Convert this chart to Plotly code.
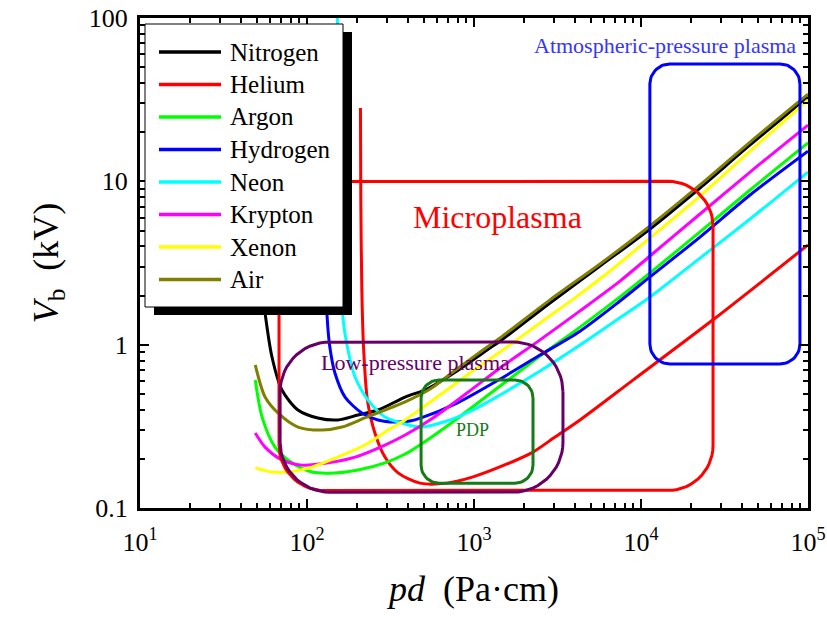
import numpy as np
import plotly.graph_objects as go

# ---------------- data ----------------
gases = ["Nitrogen", "Helium", "Argon", "Hydrogen", "Neon", "Krypton", "Xenon", "Air"]

nitrogen_pd = [50, 56.1, 61.7, 70.8, 88.3, 116, 153, 202, 266, 387, 523, 791, 1197, 1432, 2851, 5680, 11320, 22550, 44980, 100000]
nitrogen_vb = [4.5, 1.56, 0.840, 0.528, 0.398, 0.356, 0.346, 0.371, 0.398, 0.478, 0.535, 0.690, 0.928, 1.05, 1.80, 3.03, 5.11, 9.10, 16.7, 32.8]

helium_pd = [209, 210, 213, 218, 230, 255, 293, 351, 475, 689, 986, 1578, 2256, 3055, 4313, 8950, 26980, 100000]
helium_vb = [28.1, 7.69, 2.16, 0.968, 0.458, 0.288, 0.205, 0.164, 0.142, 0.142, 0.155, 0.186, 0.220, 0.272, 0.346, 0.607, 1.42, 4.08]

argon_pd = [49, 53.8, 64.3, 81.3, 107, 147, 202, 293, 387, 482, 718, 1432, 2486, 4313, 7480, 11320, 22550, 44980, 100000]
argon_vb = [0.607, 0.361, 0.236, 0.189, 0.166, 0.164, 0.171, 0.189, 0.214, 0.246, 0.327, 0.558, 0.852, 1.28, 1.96, 2.75, 4.90, 8.85, 17.2]

hydrogen_pd = [125, 132, 137, 147, 169, 213, 266, 337, 414, 482, 791, 1432, 2486, 4313, 7480, 11320, 22550, 44980, 100000]
hydrogen_vb = [12.0, 1.48, 0.968, 0.671, 0.478, 0.382, 0.346, 0.336, 0.341, 0.356, 0.439, 0.616, 0.864, 1.21, 1.85, 2.60, 4.56, 8.25, 15.3]

neon_pd = [152, 158, 164, 176, 194, 232, 293, 371, 475, 689, 986, 1432, 2486, 4313, 7180, 11320, 22550, 44980, 100000]
neon_vb = [100, 14, 1.48, 0.928, 0.634, 0.458, 0.361, 0.331, 0.313, 0.341, 0.398, 0.492, 0.690, 0.995, 1.42, 1.96, 3.39, 5.88, 11.4]

krypton_pd = [49, 56.1, 70.8, 93.3, 134, 194, 293, 387, 568, 908, 1432, 2486, 4313, 7480, 11320, 22550, 44980, 100000]
krypton_vb = [0.288, 0.236, 0.197, 0.183, 0.189, 0.205, 0.243, 0.280, 0.356, 0.506, 0.720, 1.07, 1.61, 2.45, 3.49, 6.31, 11.4, 22.1]

xenon_pd = [49, 61.7, 76.9, 107, 153, 222, 306, 387, 568, 946, 1578, 2590, 4313, 6980, 11320, 22550, 44980, 100000]
xenon_vb = [0.176, 0.166, 0.166, 0.178, 0.205, 0.243, 0.300, 0.346, 0.458, 0.671, 0.968, 1.40, 2.04, 2.99, 4.50, 8.13, 15.3, 31.5]

air_pd = [49, 56.1, 67.0, 88.3, 123, 162, 222, 293, 387, 546, 791, 1132, 1432, 2851, 5680, 11320, 22550, 44980, 100000]
air_vb = [0.751, 0.478, 0.382, 0.313, 0.300, 0.313, 0.356, 0.398, 0.446, 0.535, 0.710, 0.928, 1.10, 1.88, 3.12, 5.33, 9.50, 17.4, 34.2]

# operating regions (pd range in Pa·cm, Vb range in kV)
region_names = ["Microplasma", "Low-pressure plasma", "PDP", "Atmospheric-pressure plasma"]
region_pd_min = [68, 69, 482, 11300]
region_pd_max = [27000, 3410, 2256, 89500]
region_vb_min = [0.128, 0.125, 0.142, 0.762]
region_vb_max = [10.0, 1.04, 0.607, 52.3]
region_label_pd = [1374, 444, 973, 14000]
region_label_vb = [6.05, 0.773, 0.301, 67.5]

x_tick_vals = [10, 100, 1000, 10000, 100000]
x_tick_text = ["10<sup>1</sup>", "10<sup>2</sup>", "10<sup>3</sup>", "10<sup>4</sup>", "10<sup>5</sup>"]
y_tick_vals = [0.1, 1, 10, 100]
y_tick_text = ["0.1", "1", "10", "100"]

# ---------------- styles ----------------
gas_colors = ["#000000", "#ff0000", "#00ff00", "#0000ff", "#00ffff", "#ff00ff", "#ffff00", "#808000"]
region_colors = ["#ff0000", "#660066", "#167a16", "#0000ff"]
region_text_colors = ["#ff0000", "#660066", "#167a16", "#3535ff"]
region_text_sizes = [32, 22, 18, 22]
region_radius_px = [45, 50, 18, 20]
FONT = "Liberation Serif"

W, H = 827, 621
ML, MR, MT, MB = 140, 19, 18, 113
PW, PH = W - ML - MR, H - MT - MB
XR = (1, 5)
YR = (-1, 2)

# legend box geometry (pixels in the page)
LEG_X0, LEG_X1, LEG_Y0, LEG_Y1 = 145, 343, 24, 307
SHADOW_DX, SHADOW_DY = 9, 8
LEG_LINE_X0, LEG_LINE_X1, LEG_TEXT_X = 159, 221, 228
LEG_ROW0, LEG_ROW_STEP = 52, 32.5

series = [
    (nitrogen_pd, nitrogen_vb), (helium_pd, helium_vb), (argon_pd, argon_vb),
    (hydrogen_pd, hydrogen_vb), (neon_pd, neon_vb), (krypton_pd, krypton_vb),
    (xenon_pd, xenon_vb), (air_pd, air_vb),
]


def px_x(px):
    return (px - ML) / PW


def px_y(py):
    return (H - MB - py) / PH


def rounded_box(x0, x1, y0, y1, r):
    sx = PW / (XR[1] - XR[0])
    sy = PH / (YR[1] - YR[0])
    u0, u1 = np.log10(x0) * sx, np.log10(x1) * sx
    v0, v1 = np.log10(y0) * sy, np.log10(y1) * sy
    pts = []
    corners = [(u1 - r, v1 - r, 0, 90), (u0 + r, v1 - r, 90, 180),
               (u0 + r, v0 + r, 180, 270), (u1 - r, v0 + r, 270, 360)]
    for cu, cv, a0, a1 in corners:
        t = np.radians(np.linspace(a0, a1, 16))
        pts += list(zip(cu + r * np.cos(t), cv + r * np.sin(t)))
    pts.append(pts[0])
    u, v = np.array(pts).T
    return 10 ** (u / sx), 10 ** (v / sy)


fig = go.Figure()

for name, (pd_, vb_), col in zip(gases, series, gas_colors):
    fig.add_trace(go.Scatter(x=pd_, y=vb_, name=name, mode="lines", showlegend=False,
                             line=dict(color=col, width=3, shape="spline", smoothing=0.8)))

for i, rname in enumerate(region_names):
    bx, by = rounded_box(region_pd_min[i], region_pd_max[i], region_vb_min[i], region_vb_max[i], region_radius_px[i])
    fig.add_trace(go.Scatter(x=bx, y=by, mode="lines", showlegend=False, hoverinfo="skip",
                             line=dict(color=region_colors[i], width=3)))
    fig.add_annotation(x=np.log10(region_label_pd[i]), y=np.log10(region_label_vb[i]), xref="x", yref="y",
                       text=rname, showarrow=False,
                       font=dict(family=FONT, size=region_text_sizes[i], color=region_text_colors[i]))

# ---- legend (drawn as shapes + text, with the black drop shadow) ----
fig.add_shape(type="rect", xref="paper", yref="paper",
              x0=px_x(LEG_X0 + SHADOW_DX), x1=px_x(LEG_X1 + SHADOW_DX),
              y0=px_y(LEG_Y1 + SHADOW_DY), y1=px_y(LEG_Y0 + SHADOW_DY),
              fillcolor="black", line=dict(width=0), layer="above")
fig.add_shape(type="rect", xref="paper", yref="paper",
              x0=px_x(LEG_X0), x1=px_x(LEG_X1), y0=px_y(LEG_Y1), y1=px_y(LEG_Y0),
              fillcolor="white", line=dict(color="black", width=1), layer="above")
for k, (name, col) in enumerate(zip(gases, gas_colors)):
    yy = px_y(LEG_ROW0 + k * LEG_ROW_STEP)
    fig.add_shape(type="line", xref="paper", yref="paper",
                  x0=px_x(LEG_LINE_X0), x1=px_x(LEG_LINE_X1), y0=yy, y1=yy,
                  line=dict(color=col, width=3.5), layer="above")
    fig.add_annotation(xref="paper", yref="paper", x=px_x(LEG_TEXT_X), y=yy,
                       xanchor="left", yanchor="middle", text=name, showarrow=False,
                       font=dict(family=FONT, size=25, color="black"))

axis_common = dict(
    type="log", showline=True, linewidth=3, linecolor="black", mirror="allticks",
    ticks="inside", ticklen=9, tickwidth=2, tickcolor="black", showgrid=False, zeroline=False,
    tickfont=dict(family=FONT, size=26, color="black"),
    minor=dict(ticks="inside", ticklen=5, tickwidth=2, tickcolor="black", dtick="D1", showgrid=False),
)

fig.update_xaxes(range=list(XR), tickmode="array", tickvals=x_tick_vals, ticktext=x_tick_text,
                 ticklabelstandoff=9,
                 title=dict(text="<i>pd</i>  (Pa·cm)", font=dict(family=FONT, size=36, color="black"), standoff=20),
                 **axis_common)
fig.update_yaxes(range=list(YR), tickmode="array", tickvals=y_tick_vals, ticktext=y_tick_text,
                 ticklabelstandoff=4,
                 title=dict(text="<i>V</i><sub>b</sub>  (kV)", font=dict(family=FONT, size=36, color="black"), standoff=20),
                 **axis_common)

fig.update_layout(
    width=W, height=H,
    margin=dict(l=ML, r=MR, t=MT, b=MB, autoexpand=False),
    paper_bgcolor="white", plot_bgcolor="white",
    font=dict(family=FONT, color="black"),
    showlegend=False,
)

fig.write_html("out.html")
